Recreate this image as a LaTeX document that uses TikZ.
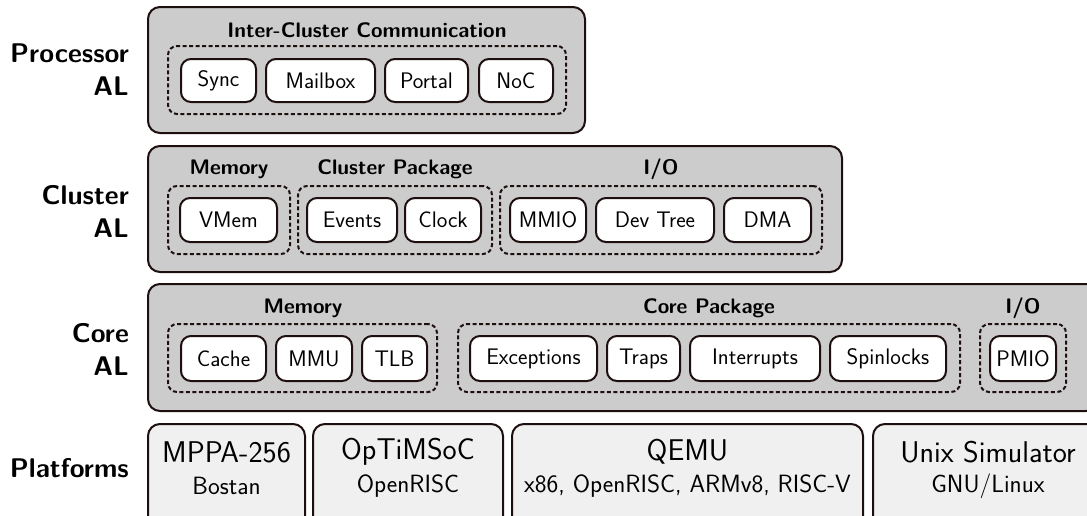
\documentclass[tikz,border=0pt]{standalone}
\usepackage{fontspec}
\definecolor{strk}{RGB}{30,15,15}
\definecolor{layerfill}{RGB}{204,204,204}
\definecolor{platfill}{RGB}{240,240,240}
\tikzset{
  layerbox/.style={draw=strk, fill=layerfill, line width=2pt, rounded corners=12pt, inner sep=0pt},
  platbox/.style={draw=strk, fill=platfill, line width=2pt, rounded corners=12pt, inner sep=0pt, align=center},
  groupbox/.style={draw=strk, dash pattern=on 4pt off 2.5pt, line width=2pt, rounded corners=9pt, inner sep=0pt},
  itembox/.style={draw=strk, fill=white, line width=2pt, rounded corners=10pt, inner sep=0pt, font=\sffamily\fontsize{22.5}{26}\selectfont},
  grouptitle/.style={font=\sffamily\bfseries\fontsize{21}{24}\selectfont, inner sep=0pt},
  layerlabel/.style={font=\sffamily\bfseries\fontsize{27}{33}\selectfont, align=right, anchor=east, inner sep=0pt},
  bigtxt/.style={font=\sffamily\fontsize{30}{32}\selectfont},
  smalltxt/.style={font=\sffamily\fontsize{25}{28}\selectfont},
}
\begin{document}
\begin{tikzpicture}[x=1pt,y=-1pt]
\clip (0,0) rectangle (1087,515);
\useasboundingbox (0,0) rectangle (1087,515);

% Processor AL
\node[layerlabel] (lproc) at (129,70) {Processor\\AL};
\node[layerbox, minimum width=437pt, minimum height=126pt] (proc) at (366.5,70) {};
\node[grouptitle] (ticc) at (367,30) {Inter-Cluster Communication};
\node[groupbox, minimum width=398pt, minimum height=68pt] (gicc) at (367,80) {};
\node[itembox, minimum width=75pt, minimum height=43pt] (sync) at (218.5,80.5) {Sync};
\node[itembox, minimum width=109pt, minimum height=43pt] (mailbox) at (320.5,80.5) {Mailbox};
\node[itembox, minimum width=83pt, minimum height=43pt] (portal) at (426.5,80.5) {Portal};
\node[itembox, minimum width=74pt, minimum height=43pt] (noc) at (516,80.5) {NoC};

% Cluster AL
\node[layerlabel] (lclus) at (129,211) {Cluster\\AL};
\node[layerbox, minimum width=694pt, minimum height=126pt] (clus) at (495,209) {};
\node[grouptitle] (tcmem) at (229,169) {Memory};
\node[grouptitle] (tcpkg) at (395,169) {Cluster Package};
\node[grouptitle] (tcio) at (661,169) {I/O};
\node[groupbox, minimum width=122pt, minimum height=68pt] (gcmem) at (229,220) {};
\node[groupbox, minimum width=194pt, minimum height=68pt] (gcpkg) at (395,220) {};
\node[groupbox, minimum width=322pt, minimum height=68pt] (gcio) at (661,220) {};
\node[itembox, minimum width=97pt, minimum height=44pt] (vmem) at (228.5,220) {VMem};
\node[itembox, minimum width=90pt, minimum height=44pt] (events) at (352,220) {Events};
\node[itembox, minimum width=76pt, minimum height=44pt] (clock) at (443,220) {Clock};
\node[itembox, minimum width=76pt, minimum height=44pt] (mmio) at (548,220) {MMIO};
\node[itembox, minimum width=118pt, minimum height=44pt] (devtree) at (655,220) {Dev Tree};
\node[itembox, minimum width=87pt, minimum height=44pt] (dma) at (767.5,220) {DMA};

% Core AL
\node[layerlabel] (lcore) at (129,349) {Core\\AL};
\node[layerbox, minimum width=950pt, minimum height=127pt] (core) at (623,347.5) {};
\node[grouptitle] (tkmem) at (303,308) {Memory};
\node[grouptitle] (tkpkg) at (709,308) {Core Package};
\node[grouptitle] (tkio) at (1023,308) {I/O};
\node[groupbox, minimum width=269pt, minimum height=68pt] (gkmem) at (302.5,358) {};
\node[groupbox, minimum width=502pt, minimum height=68pt] (gkpkg) at (709,358) {};
\node[groupbox, minimum width=86pt, minimum height=68pt] (gkio) at (1023,358) {};
\node[itembox, minimum width=85pt, minimum height=45pt] (cache) at (223.5,358.5) {Cache};
\node[itembox, minimum width=76pt, minimum height=45pt] (mmu) at (314,358.5) {MMU};
\node[itembox, minimum width=65pt, minimum height=45pt] (tlb) at (394.5,358.5) {TLB};
\node[itembox, minimum width=127pt, minimum height=45pt] (exc) at (533.5,358.5) {Exceptions};
\node[itembox, minimum width=73pt, minimum height=45pt] (traps) at (643.5,358.5) {Traps};
\node[itembox, minimum width=130pt, minimum height=45pt] (intr) at (755,358.5) {Interrupts};
\node[itembox, minimum width=116pt, minimum height=45pt] (spin) at (888,358.5) {Spinlocks};
\node[itembox, minimum width=66pt, minimum height=45pt] (pmio) at (1023,358.5) {PMIO};

% Platforms
\node[layerlabel] (lplat) at (129,468) {Platforms};
\node[platbox, minimum width=157pt, minimum height=110pt, anchor=north] (mppa) at (226.5,423) {};
\node[platbox, minimum width=190pt, minimum height=110pt, anchor=north] (optimsoc) at (408,423) {};
\node[platbox, minimum width=351pt, minimum height=110pt, anchor=north] (qemu) at (687.5,423) {};
\node[platbox, minimum width=230pt, minimum height=110pt, anchor=north] (unix) at (988,423) {};
\foreach \n/\big/\small in {mppa/MPPA-256/Bostan, optimsoc/OpTiMSoC/OpenRISC, qemu/QEMU/{x86, OpenRISC, ARMv8, RISC-V}, unix/Unix Simulator/GNU\slash Linux}{
  \node[bigtxt, inner sep=0pt] (\n-t) at ([yshift=-29pt]\n.north) {\big};
  \node[smalltxt, inner sep=0pt] (\n-s) at ([yshift=-63pt]\n.north) {\small};
}
\end{tikzpicture}
\end{document}
